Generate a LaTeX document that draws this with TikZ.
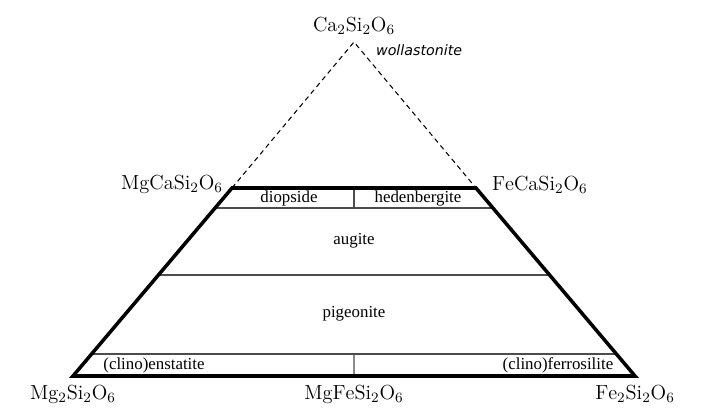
\documentclass[tikz,border=0pt]{standalone}
\usepackage{fontspec}
\newfontfamily\minfont{Liberation Serif}
\newfontfamily\endfont{DejaVu Sans}
\usetikzlibrary{positioning,calc}
\newcommand\fsize{\fontsize{11.6}{14}\selectfont}
\newcommand\msize{\fontsize{9.6}{11}\selectfont}
\newcommand\wsize{\fontsize{8.1}{10}\selectfont}
\newcommand\gapc{3pt}
\newcommand\gapb{4pt}

\tikzset{
  formula/.style={inner sep=1pt, font=\fsize},
  mineral/.style={inner sep=0pt, font=\minfont\msize, text height=1.6ex, text depth=.45ex},
  rim/.style={line width=2pt, line join=miter},
  split/.style={line width=0.8pt, gray!60!black},
  guide/.style={line width=0.6pt, dash pattern=on 2.8pt off 2.2pt},
}

\begin{document}
\begin{tikzpicture}[x=0.02cm, y=-0.02cm]
  \useasboundingbox (0,0) rectangle (716,419);
  % corners of the quadrilateral and the apex
  \coordinate (Mg) at (73,376);
  \coordinate (Fe) at (635,376);
  \coordinate (MgCa) at (232,188);
  \coordinate (FeCa) at (476,188);
  \coordinate (Ca) at (354,42);
  \coordinate (MgFe) at ($(Mg)!0.5!(Fe)$);
  \coordinate (top) at ($(MgCa)!0.5!(FeCa)$);
  % ends of the inner lines
  \coordinate (dl) at (intersection of Mg--MgCa and 0,208--1,208);
  \coordinate (dr) at (intersection of Fe--FeCa and 0,208--1,208);
  \coordinate (al) at (intersection of Mg--MgCa and 0,275--1,275);
  \coordinate (ar) at (intersection of Fe--FeCa and 0,275--1,275);
  \coordinate (el) at (intersection of Mg--MgCa and 0,354--1,354);
  \coordinate (er) at (intersection of Fe--FeCa and 0,354--1,354);
  \coordinate (dm) at (354,208);
  \coordinate (em) at (354,354);

  % inner lines
  \draw [split] (dl) -- (dr);
  \draw [split] (al) -- (ar);
  \draw [split] (el) -- (er);
  \draw [split] (top) -- (dm);
  \draw [split] (em) -- (MgFe);
  % dotted part of the triangle
  \draw [guide] (MgCa) -- (Ca) -- (FeCa);
  % outline
  \draw [rim] (Mg) -- (MgCa) -- (FeCa) -- (Fe) -- cycle;

  % end members
  \node [formula, above=\gapc of Ca] (caLab) {$\mathrm{Ca_2Si_2O_6}$};
  \node [inner sep=1pt, anchor=west, font=\endfont\wsize\itshape] (woll)
    at ($(Ca)+(20,8)$) {wollastonite};
  \node [formula, left=4pt of MgCa, yshift=2.3pt] (mgcaLab) {$\mathrm{MgCaSi_2O_6}$};
  \node [formula, right=8pt of FeCa, yshift=1.8pt] (fecaLab) {$\mathrm{FeCaSi_2O_6}$};
  \node [formula, below=\gapb of Mg] (mgLab) {$\mathrm{Mg_2Si_2O_6}$};
  \node [formula, below=\gapb of MgFe] (mgfeLab) {$\mathrm{MgFeSi_2O_6}$};
  \node [formula, below=\gapb of Fe] (feLab) {$\mathrm{Fe_2Si_2O_6}$};

  % fields
  \node [mineral] (diop) at (289,198) {diopside};
  \node [mineral] (hed) at (418,198) {hedenbergite};
  \node [mineral] (aug) at (354,240) {augite};
  \node [mineral] (pig) at (354,313) {pigeonite};
  \node [mineral] (ens) at (154,365) {(clino)enstatite};
  \node [mineral] (fer) at (558,365) {(clino)ferrosilite};
\end{tikzpicture}
\end{document}
